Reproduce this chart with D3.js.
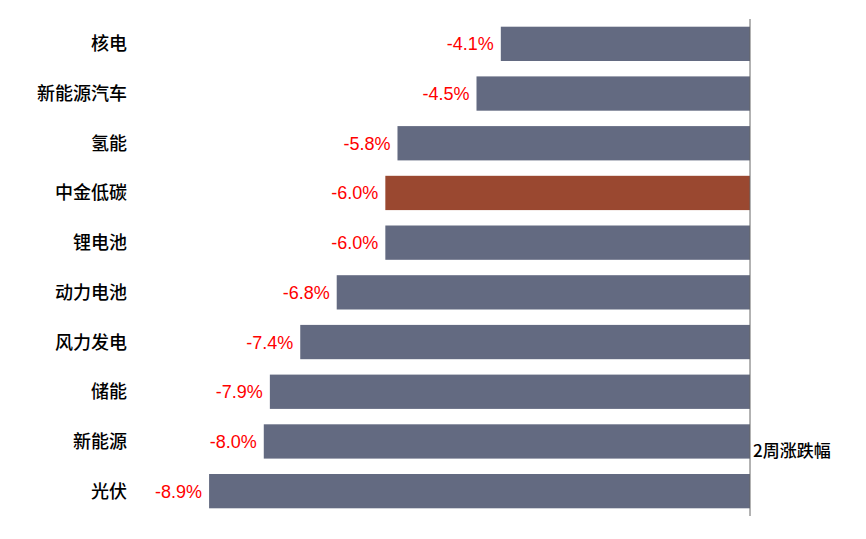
<!DOCTYPE html>
<html>
<head>
<meta charset="utf-8">
<script src="https://cdn.jsdelivr.net/npm/d3@7"></script>
<style>
  body { margin: 0; background: #fff; }
  svg { display: block; }
</style>
</head>
<body>
<div id="chart"></div>
<script>
const categories = ['核电', '新能源汽车', '氢能', '中金低碳', '锂电池', '动力电池', '风力发电', '储能', '新能源', '光伏'];
const values = [-4.1, -4.5, -5.8, -6.0, -6.0, -6.8, -7.4, -7.9, -8.0, -8.9];
const highlight = '中金低碳';
const seriesName = '2周涨跌幅';

const width = 866;
const height = 539;

const svg = d3.select('#chart')
  .append('svg')
    .attr('width', width)
    .attr('height', height);

const x = d3.scaleLinear()
  .domain([-9, 0])
  .range([203, 750]);

const y = d3.scaleBand()
  .domain(categories)
  .range([19, 516])
  .paddingInner(0.31)
  .paddingOuter(0.155);

const data = categories.map((c, i) => ({cat: c, val: values[i]}));

svg.selectAll('.bar')
  .data(data)
  .enter()
  .append('rect')
    .attr('class', 'bar')
    .attr('x', d => x(d.val))
    .attr('y', d => y(d.cat))
    .attr('width', d => x(0) - x(d.val))
    .attr('height', y.bandwidth())
    .attr('fill', d => d.cat === highlight ? '#9a4830' : '#636a81');

// value labels, left of each bar
svg.selectAll('.val')
  .data(data)
  .enter()
  .append('text')
    .attr('class', 'val')
    .attr('x', d => x(d.val) - 7)
    .attr('y', d => y(d.cat) + y.bandwidth() / 2)
    .attr('dy', '0.36em')
    .attr('text-anchor', 'end')
    .attr('fill', '#ff0000')
    .style('font', '18px "Liberation Sans", Arial, sans-serif')
    .text(d => d.val.toFixed(1) + '%');

svg.selectAll('.cat')
  .data(data)
  .enter()
  .append('text')
    .attr('class', 'cat')
    .attr('x', 127)
    .attr('y', d => y(d.cat) + y.bandwidth() / 2)
    .attr('dy', '0.36em')
    .attr('text-anchor', 'end')
    .attr('fill', '#000')
    .style('font', '500 18px "Noto Sans CJK SC", sans-serif')
    .text(d => d.cat);

svg.append('line')
  .attr('x1', x(0)).attr('x2', x(0))
  .attr('y1', 19).attr('y2', 516)
  .attr('stroke', '#666')
  .attr('stroke-width', 1);

svg.append('text')
  .attr('x', x(0) + 3)
  .attr('y', 451)
  .attr('dy', '0.36em')
  .attr('fill', '#000')
  .style('font', '500 17px "Noto Sans CJK SC", sans-serif')
  .text(seriesName);
</script>
</body>
</html>
